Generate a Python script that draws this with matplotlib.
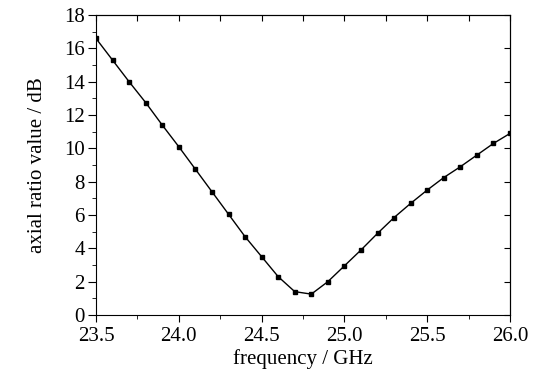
import numpy as np
import matplotlib
matplotlib.use("Agg")
import matplotlib.pyplot as plt
from matplotlib.ticker import MultipleLocator

plt.rcParams['font.family'] = ['Liberation Serif', 'DejaVu Serif']

# frequency (GHz) and axial ratio (dB)
freq = [23.5, 23.6, 23.7, 23.8, 23.9, 24.0, 24.1, 24.2, 24.3, 24.4, 24.5, 24.6, 24.7,
        24.8, 24.9, 25.0, 25.1, 25.2, 25.3, 25.4, 25.5, 25.6, 25.7, 25.8, 25.9, 26.0]
axial_ratio = [16.6, 15.3, 14.0, 12.75, 11.4, 10.1, 8.75, 7.4, 6.05, 4.7, 3.5, 2.3, 1.4,
               1.25, 2.0, 2.95, 3.9, 4.9, 5.85, 6.7, 7.5, 8.25, 8.9, 9.6, 10.3, 10.9]

xticks = [23.5, 24.0, 24.5, 25.0, 25.5, 26.0]
yticks = [0, 2, 4, 6, 8, 10, 12, 14, 16, 18]

fig = plt.figure(figsize=(5.55, 3.79), dpi=100)
ax = fig.add_axes([0.173, 0.169, 0.746, 0.791])

ax.plot(freq, axial_ratio, color='black', linewidth=1.0, marker='s', markersize=3.2)

ax.set_xlim(23.5, 26.0)
ax.set_ylim(0, 18)
ax.set_xticks(xticks)
ax.set_xticklabels([f'{t:.1f}' for t in xticks])
ax.set_yticks(yticks)
ax.xaxis.set_minor_locator(MultipleLocator(0.25))
ax.yaxis.set_minor_locator(MultipleLocator(1))
ax.tick_params(which='both', direction='out', labelsize=15)
ax.tick_params(axis='x', which='major', length=5, pad=4)
ax.tick_params(axis='y', which='major', length=6, pad=2)
ax.tick_params(which='minor', length=3)

# inward ticks on the top and right frame
top = ax.secondary_xaxis('top')
top.set_xticks(np.arange(23.5, 26.01, 0.25))
top.tick_params(direction='in', length=4, labeltop=False)
right = ax.secondary_yaxis('right')
right.set_yticks(yticks)
right.tick_params(direction='in', length=4, labelright=False)

ax.set_xlabel('frequency / GHz', fontsize=15, labelpad=2)
ax.set_ylabel('axial ratio value / dB', fontsize=15, labelpad=12)

fig.savefig('out.png', dpi=100)
